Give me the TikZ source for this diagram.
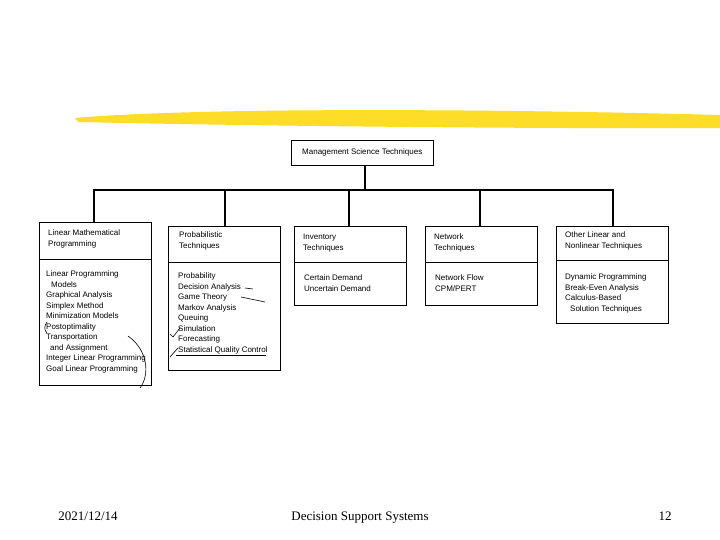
\documentclass[tikz,border=0pt]{standalone}
\usepackage{fontspec}
\setmainfont{Liberation Serif}
\newfontfamily\boxfont{Liberation Sans}
\begin{document}
\begin{tikzpicture}[x=1pt,y=-1pt,
  bx/.style={draw,line width=0.9pt},
  conn/.style={line width=2.2pt},
  txt/.style={font=\boxfont\fontsize{8}{10.5}\selectfont,align=left,anchor=north west,inner sep=0pt},
  foot/.style={font=\fontsize{13}{15}\selectfont,inner sep=0pt,anchor=base},
  pen/.style={line width=0.6pt}]
\useasboundingbox (0,0) rectangle (720,540);
\fill[white] (0,0) rectangle (720,540);
% highlighter
\fill[yellow!75!orange!85] (75,118) .. controls (200,107) and (500,109) .. (720,115) -- (720,128) .. controls (500,129) and (200,125) .. (78,122) -- cycle;
% boxes
\draw[bx] (291,140) rectangle (433,165);
\node[txt] (top) at (302,149) {Management Science Techniques};
\coordinate (topb) at (365,165);
\draw[bx] (39,222) rectangle (151,385); \draw[bx] (39,259) -- (151,259);
\draw[bx] (168,226) rectangle (280,370); \draw[bx] (168,262) -- (280,262);
\draw[bx] (294,226) rectangle (406,305); \draw[bx] (294,262) -- (406,262);
\draw[bx] (425,226) rectangle (537,305); \draw[bx] (425,262) -- (537,262);
\draw[bx] (556,226) rectangle (668,323); \draw[bx] (556,260) -- (668,260);
\coordinate (b1) at (94,222); \coordinate (b2) at (225,226); \coordinate (b3) at (349,226);
\coordinate (b4) at (480,226); \coordinate (b5) at (613,226);
\coordinate (h) at (365,190);
\draw[conn] (topb) -- (h);
\draw[conn,line join=miter] (b1) -- (b1 |- h) -- (b5 |- h) -- (b5);
\foreach \b in {b2,b3,b4} \draw[conn] (\b) -- (\b |- h);
% texts
\node[txt] (t1) at (48,230) {Linear Mathematical\\Programming};
\node[txt] (c1) at (46,271) {Linear Programming\\\hspace{5pt}Models\\Graphical Analysis\\Simplex Method\\Minimization Models\\Postoptimality\\Transportation\\\hspace{4pt}and Assignment\\Integer Linear Programming\\Goal Linear Programming};
\node[txt] (t2) at (179,232) {Probabilistic\\Techniques};
\node[txt] (c2) at (178,273) {Probability\\Decision Analysis\\Game Theory\\Markov Analysis\\Queuing\\Simulation\\Forecasting\\Statistical Quality Control};
\node[txt] (t3) at (303,234) {Inventory\\Techniques};
\node[txt] (c3) at (304,275) {Certain Demand\\Uncertain Demand};
\node[txt] (t4) at (434,234) {Network\\Techniques};
\node[txt] (c4) at (435,275) {Network Flow\\CPM/PERT};
\node[txt] (t5) at (565,232) {Other Linear and\\Nonlinear Techniques};
\node[txt] (c5) at (565,274) {Dynamic Programming\\Break-Even Analysis\\Calculus-Based\\\hspace{5pt}Solution Techniques};
% pen marks
\draw[pen] (253,289) -- (245,288);
\draw[pen] (265,302) -- (241,297);
\draw[pen] (176,355) -- (266,355);
\draw[pen] (170,334) -- (173,337) -- (180,328);
\draw[pen] (170,357) -- (178,348);
\draw[pen] (47,322) .. controls (44,326) and (44,330) .. (47,333);
\draw[pen] (128,336) .. controls (148,350) and (150,375) .. (140,388);
% footer
\node[foot] (f1) at (88,520) {2021/12/14};
\node[foot] (f2) at (360,520) {Decision Support Systems};
\node[foot] (f3) at (665,520) {12};
\end{tikzpicture}
\end{document}
